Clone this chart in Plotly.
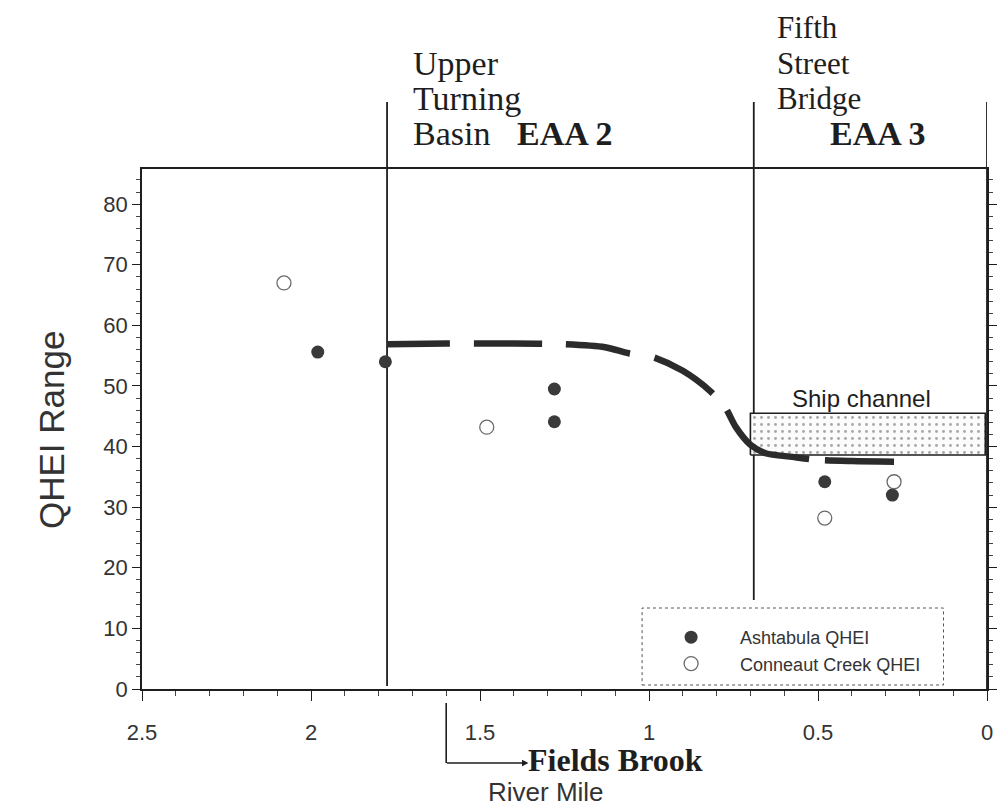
import plotly.graph_objects as go

# ---------------- data ----------------
ashtabula_x = [1.98, 1.78, 1.28, 1.28, 0.48, 0.28]
ashtabula_y = [55.6, 54.0, 49.5, 44.1, 34.2, 32.0]

conneaut_x = [2.08, 1.48, 0.48, 0.275]
conneaut_y = [67.0, 43.2, 28.2, 34.2]

trend_x = [1.775, 1.6, 1.4, 1.25, 1.13, 1.06, 0.99, 0.90, 0.82, 0.775, 0.743, 0.70, 0.655, 0.576, 0.50, 0.40, 0.275]
trend_y = [56.9, 57.0, 57.0, 56.9, 56.4, 55.4, 54.8, 52.5, 49.2, 46.5, 43.2, 40.3, 38.9, 38.3, 37.8, 37.6, 37.5]

ship_channel_x = [0.70, 0.005]
ship_channel_y = [38.6, 45.5]

landmark_x = [1.775, 0.69, 0.0]          # Upper Turning Basin, Fifth Street Bridge, mouth
fields_brook_x = 1.6

x_ticks = [2.5, 2, 1.5, 1, 0.5, 0]
x_ticklabels = ["2.5", "2", "1.5", "1", "0.5", "0"]
y_ticks = [0, 10, 20, 30, 40, 50, 60, 70, 80]

# ---------------- layout geometry (pixels) ----------------
FIG_W, FIG_H = 1007, 811
L, R, T, B = 142, 10, 169, 122
PW = FIG_W - L - R
PH = FIG_H - T - B
Y0PX = FIG_H - B


def pxx(px):
    return (px - L) / PW


def pxy(py):
    return (Y0PX - py) / PH


SERIF = "Liberation Serif, Times New Roman, serif"
SANS = "Liberation Sans, Arial, sans-serif"
INK = "#1e1e1e"

fig = go.Figure()

# Ship channel box (stippled fill)
sx0, sx1 = ship_channel_x
sy0, sy1 = ship_channel_y
fig.add_trace(go.Scatter(
    x=[sx0, sx1, sx1, sx0, sx0], y=[sy0, sy0, sy1, sy1, sy0],
    mode="lines", fill="toself",
    fillcolor="white",
    fillpattern=dict(shape=".", fgcolor="#555555", bgcolor="#fbfbfb", size=7, solidity=0.14),
    line=dict(color=INK, width=1.6),
    showlegend=False, hoverinfo="skip",
))

# dashed trend curve (hand-drawn irregular dashes)
fig.add_trace(go.Scatter(
    x=trend_x, y=trend_y, mode="lines",
    line=dict(color="#2b2b2b", width=6.5,
              dash="63px,24px,68px,24px,65px,25px,69px,22px,103px,16px,90px,40px",
              shape="spline", smoothing=0.8),
    showlegend=False, hoverinfo="skip",
))

fig.add_trace(go.Scatter(
    x=ashtabula_x, y=ashtabula_y, mode="markers", name="Ashtabula QHEI",
    marker=dict(symbol="circle", size=13, color="#3a3a3a", line=dict(width=0)),
))
fig.add_trace(go.Scatter(
    x=conneaut_x, y=conneaut_y, mode="markers", name="Conneaut Creek QHEI",
    marker=dict(symbol="circle-open", size=14, color="#6a6a6a", line=dict(width=1.3)),
))

shapes = []
# landmark vertical lines (extend above plot)
line_bottoms = [686, 600, Y0PX]
for lx, bpx in zip(landmark_x, line_bottoms):
    shapes.append(dict(type="line", xref="x", yref="paper", x0=lx, x1=lx,
                       y0=pxy(bpx), y1=pxy(102), line=dict(color=INK, width=1.8), layer="below"))

# Fields Brook bracket
shapes.append(dict(type="line", xref="x", yref="paper", x0=fields_brook_x, x1=fields_brook_x,
                   y0=pxy(703), y1=pxy(763), line=dict(color=INK, width=1.6)))

# legend box
shapes.append(dict(type="rect", xref="paper", yref="paper",
                   x0=pxx(648), x1=pxx(953), y0=pxy(685), y1=pxy(608),
                   line=dict(color="#555", width=1, dash="dot"), fillcolor="white", layer="above"))

annotations = []
# Fields Brook arrow + label
annotations.append(dict(xref="paper", yref="paper", x=pxx(533), y=pxy(763),
                        ax=-83, ay=0, axref="pixel", ayref="pixel",
                        showarrow=True, arrowhead=2, arrowsize=0.8, arrowwidth=1.6,
                        arrowcolor=INK, text=""))
annotations.append(dict(xref="paper", yref="paper", x=pxx(532), y=pxy(760),
                        xanchor="left", yanchor="middle", showarrow=False, borderpad=0,
                        text="<b>Fields Brook</b>", font=dict(family=SERIF, size=32, color=INK)))

# top labels
for txt, px, py in [("Upper", 414, 63), ("Turning", 414, 98), ("Basin", 414, 133)]:
    annotations.append(dict(xref="paper", yref="paper", x=pxx(px), y=pxy(py),
                            xanchor="left", yanchor="middle", showarrow=False,
                            text=txt, font=dict(family=SERIF, size=34, color=INK)))
for txt, px, py in [("Fifth", 782, 27), ("Street", 782, 63), ("Bridge", 782, 98)]:
    annotations.append(dict(xref="paper", yref="paper", x=pxx(px), y=pxy(py),
                            xanchor="left", yanchor="middle", showarrow=False,
                            text=txt, font=dict(family=SERIF, size=31, color=INK)))
for txt, px in [("EAA 2", 569), ("EAA 3", 886)]:
    annotations.append(dict(xref="paper", yref="paper", x=pxx(px), y=pxy(133),
                            xanchor="center", yanchor="middle", showarrow=False,
                            text="<b>%s</b>" % txt, font=dict(family=SERIF, size=34, color=INK)))

# ship channel label
annotations.append(dict(xref="x", yref="y", x=0.37, y=48.0,
                        showarrow=False, text="Ship channel",
                        font=dict(family=SANS, size=24, color=INK)))

# axis titles
annotations.append(dict(xref="paper", yref="paper", x=pxx(50), y=pxy(430),
                        xanchor="center", yanchor="middle", showarrow=False, textangle=-90,
                        text="QHEI Range", font=dict(family=SANS, size=35, color="#333")))
annotations.append(dict(xref="paper", yref="paper", x=pxx(551), y=pxy(792),
                        xanchor="center", yanchor="middle", showarrow=False, borderpad=0,
                        text="River Mile", font=dict(family=SANS, size=26, color="#333")))

fig.update_layout(
    width=FIG_W, height=FIG_H,
    margin=dict(l=L, r=R, t=T, b=B, pad=0),
    paper_bgcolor="white", plot_bgcolor="white",
    shapes=shapes, annotations=annotations,
    legend=dict(x=pxx(648), y=pxy(619), xanchor="left", yanchor="top",
                bgcolor="rgba(0,0,0,0)", borderwidth=0,
                font=dict(family=SANS, size=18, color="#333"),
                itemwidth=88, tracegroupgap=0),
    xaxis=dict(range=[2.5, 0], tickvals=x_ticks, ticktext=x_ticklabels,
               showgrid=False, zeroline=False, showline=True, linecolor=INK, linewidth=1.6,
               mirror=True, ticks="outside", ticklen=10, tickcolor=INK, tickwidth=1,
               ticklabelstandoff=13,
               tickfont=dict(family=SANS, size=22, color="#333"),
               minor=dict(dtick=0.1, ticks="outside", ticklen=5, tickcolor="#444", tickwidth=1)),
    yaxis=dict(range=[0, 85.8], tickvals=y_ticks,
               showgrid=False, zeroline=False, showline=True, linecolor=INK, linewidth=1.6,
               mirror="allticks", ticks="outside", ticklen=8, tickcolor=INK, tickwidth=1,
               tickfont=dict(family=SANS, size=22, color="#333"),
               minor=dict(dtick=2, ticks="outside", ticklen=4, tickcolor="#444", tickwidth=1)),
)

fig.write_html(
    "out.html",
    config={"displayModeBar": False},
    post_script="document.body.style.margin='0';document.body.style.overflow='hidden';",
)
